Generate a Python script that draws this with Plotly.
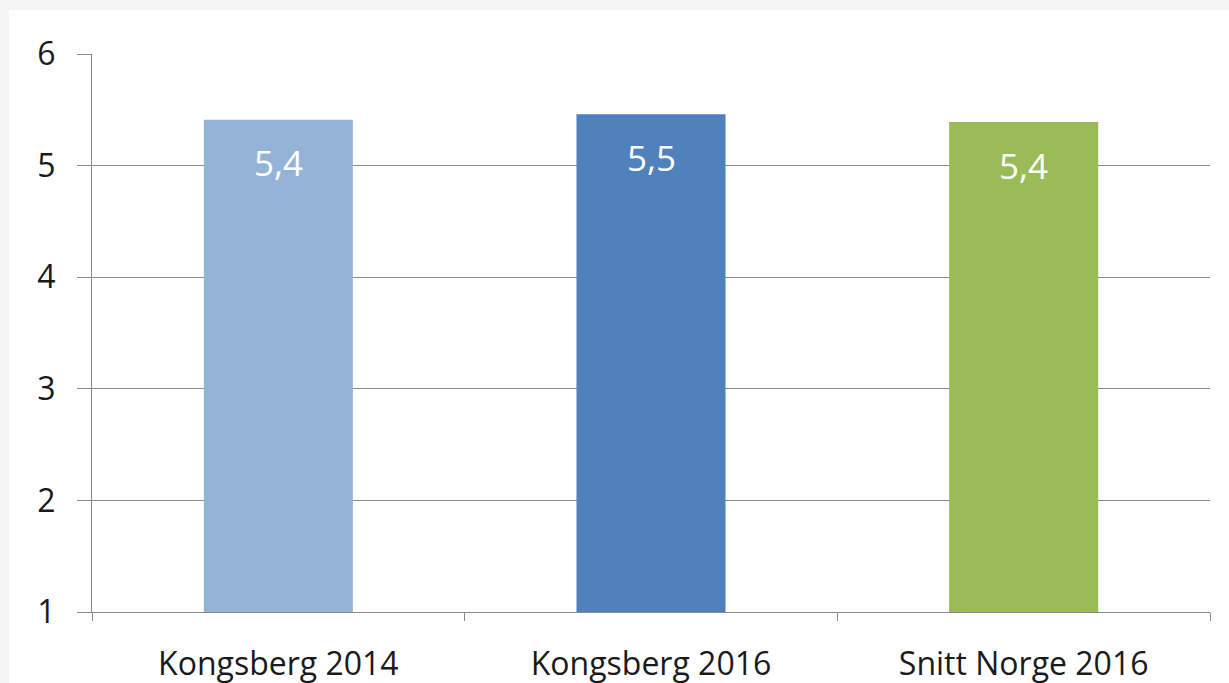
import plotly.graph_objects as go

categories = ["Kongsberg 2014", "Kongsberg 2016", "Snitt Norge 2016"]
values = [5.41, 5.46, 5.39]
bar_colors = ["#95B3D7", "#4F81BD", "#9BBB59"]
y_ticks = [1, 2, 3, 4, 5, 6]

FONT = "'Open Sans', Calibri, sans-serif"
GRID = "#898989"
TXT = "#1A1A1A"

fig = go.Figure()
fig.add_trace(go.Bar(
    x=categories, y=values, marker=dict(color=bar_colors, line=dict(width=0)),
    hoverinfo="skip", showlegend=False,
))

for c, v in zip(categories, values):
    fig.add_annotation(
        x=c, y=v, xref="x", yref="y", text=f"{v:.1f}".replace(".", ","),
        showarrow=False, yanchor="middle", yshift=-43,
        font=dict(family=FONT, size=35, color="white"),
    )

L, R, T, B = 92, 19, 54, 71
W, H = 1229, 683
pw, ph = W - L - R, H - T - B
fig.add_shape(
    type="rect", xref="paper", yref="paper", layer="below",
    x0=(9 - L) / pw, x1=(W + 5 - L) / pw,
    y0=-(B + 5) / ph, y1=(H - B - 10) / ph,
    fillcolor="white", line=dict(width=0),
)

fig.update_layout(
    width=W, height=H,
    margin=dict(l=L, r=R, t=T, b=B, pad=0, autoexpand=False),
    paper_bgcolor="#F5F5F5", plot_bgcolor="white",
    bargap=0.6,
    font=dict(family=FONT, size=32, color=TXT),
)
fig.update_xaxes(
    automargin=False,
    showline=True, linecolor=GRID, linewidth=1,
    ticks="outside", tickson="boundaries", ticklen=8, tickcolor=GRID, tickwidth=1,
    showgrid=False, ticklabelstandoff=24,
    tickfont=dict(family=FONT, size=32, color=TXT),
)
fig.update_yaxes(
    automargin=False,
    range=[1, 6], tickvals=y_ticks, ticktext=[str(t) for t in y_ticks],
    showline=True, linecolor=GRID, linewidth=1,
    showgrid=True, gridcolor=GRID, gridwidth=1, zeroline=False,
    ticks="outside", ticklen=14, tickcolor=GRID, tickwidth=1,
    ticklabelstandoff=15,
    tickfont=dict(family=FONT, size=32, color=TXT),
)

fig.write_html(
    "out.html",
    config={"displayModeBar": False},
    post_script="document.body.style.margin='0px';document.body.style.background='#F5F5F5';",
)
